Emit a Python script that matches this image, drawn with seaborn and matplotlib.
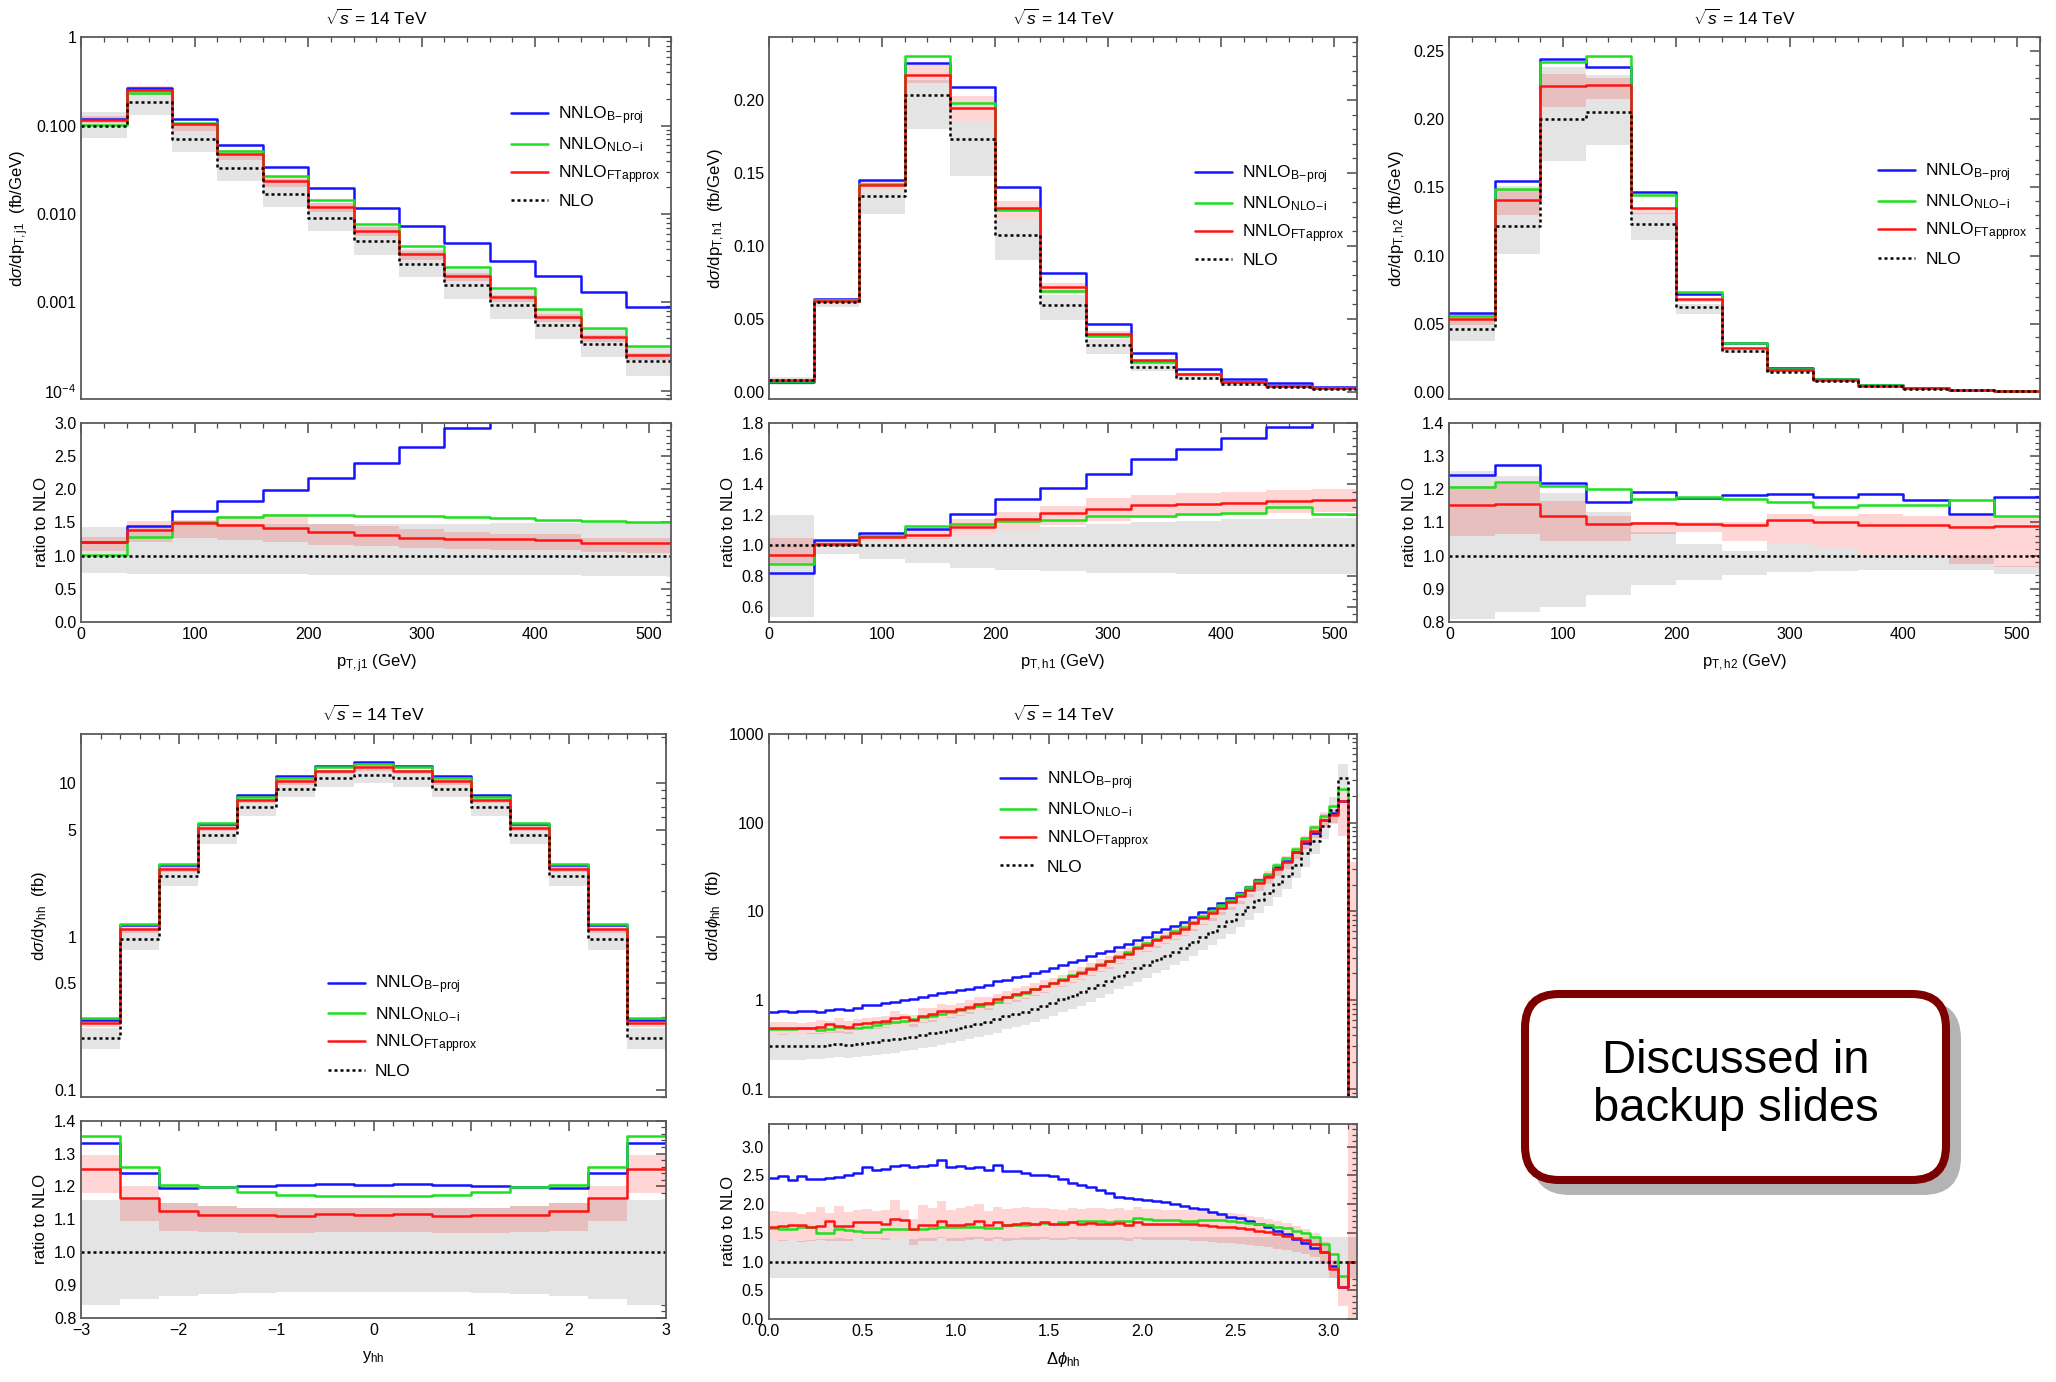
import numpy as np
import pandas as pd
import matplotlib
matplotlib.use("Agg")
import matplotlib.pyplot as plt
import seaborn as sns
from matplotlib.lines import Line2D
from matplotlib.patches import FancyBboxPatch
from matplotlib.ticker import (FixedLocator, NullFormatter, MultipleLocator,
                               FormatStrFormatter, LogLocator)
from matplotlib import font_manager as fm

# ---------------------------------------------------------------- data
# panel 1 : p_T,j1
ptj1_edges = [0, 40, 80, 120, 160, 200, 240, 280, 320, 360, 400, 440, 480, 520]
ptj1_blue = [0.120, 0.267, 0.118, 0.061, 0.0337, 0.0195, 0.0118, 0.00725, 0.00466, 0.00296, 0.00199, 0.00131, 0.000877]
ptj1_green = [0.1026, 0.234, 0.108, 0.052, 0.0272, 0.0144, 0.00778, 0.00434, 0.00249, 0.00144, 0.000847, 0.000517, 0.000323]
ptj1_red = [0.117, 0.253, 0.1044, 0.0482, 0.0238, 0.0121, 0.00642, 0.00349, 0.00197, 0.00114, 0.000689, 0.000409, 0.000256]
ptj1_nlo = [0.100, 0.185, 0.070, 0.0329, 0.0168, 0.0090, 0.00491, 0.00274, 0.00157, 0.000924, 0.000558, 0.000343, 0.000215]
ptj1_blue_r = [1.204, 1.44, 1.673, 1.82, 1.985, 2.17, 2.39, 2.64, 2.93, 3.2, 3.57, 3.82, 4.08]
ptj1_green_r = [1.015, 1.286, 1.50, 1.58, 1.607, 1.607, 1.60, 1.597, 1.587, 1.566, 1.54, 1.515, 1.50]
ptj1_red_r = [1.199, 1.383, 1.49, 1.459, 1.413, 1.357, 1.316, 1.27, 1.255, 1.245, 1.23, 1.19, 1.19]
ptj1_red_lo = [1.07, 1.20, 1.26, 1.24, 1.20, 1.16, 1.14, 1.11, 1.10, 1.09, 1.09, 1.05, 1.04]
ptj1_red_hi = [1.28, 1.52, 1.54, 1.60, 1.62, 1.48, 1.45, 1.40, 1.36, 1.33, 1.32, 1.26, 1.26]
ptj1_grey_lo = [0.73, 0.72, 0.72, 0.715, 0.715, 0.71, 0.71, 0.71, 0.705, 0.70, 0.70, 0.695, 0.69]
ptj1_grey_hi = [1.43, 1.45, 1.46, 1.47, 1.47, 1.48, 1.48, 1.48, 1.48, 1.49, 1.49, 1.49, 1.49]

# panel 2 : p_T,h1
pth1_edges = [0, 40, 80, 120, 160, 200, 240, 280, 320, 360, 400, 440, 480, 520]
pth1_blue = [0.0068, 0.0639, 0.1452, 0.2257, 0.2089, 0.1404, 0.0815, 0.0466, 0.0268, 0.0155, 0.0089, 0.0057, 0.0034]
pth1_green = [0.0073, 0.0626, 0.1422, 0.2305, 0.198, 0.1249, 0.0694, 0.038, 0.0205, 0.0121, 0.0068, 0.0040, 0.0023]
pth1_red = [0.0078, 0.0623, 0.142, 0.2175, 0.1948, 0.1263, 0.0717, 0.0398, 0.0216, 0.0125, 0.0069, 0.0041, 0.0025]
pth1_nlo = [0.0083, 0.0614, 0.1342, 0.2036, 0.1732, 0.1074, 0.0592, 0.0319, 0.0171, 0.0096, 0.0053, 0.0031, 0.0019]
pth1_blue_r = [0.818, 1.038, 1.08, 1.11, 1.206, 1.30, 1.373, 1.464, 1.562, 1.629, 1.704, 1.776, 1.85]
pth1_green_r = [0.878, 1.011, 1.06, 1.129, 1.14, 1.16, 1.167, 1.193, 1.189, 1.204, 1.209, 1.249, 1.204]
pth1_red_r = [0.94, 1.011, 1.053, 1.067, 1.122, 1.173, 1.209, 1.24, 1.262, 1.269, 1.278, 1.289, 1.296]
pth1_red_lo = [0.88, 0.99, 1.03, 1.04, 1.07, 1.10, 1.13, 1.16, 1.18, 1.19, 1.20, 1.21, 1.22]
pth1_red_hi = [1.05, 1.03, 1.08, 1.10, 1.17, 1.22, 1.26, 1.31, 1.33, 1.34, 1.35, 1.36, 1.37]
pth1_grey_lo = [0.53, 0.945, 0.91, 0.885, 0.855, 0.84, 0.83, 0.82, 0.82, 0.815, 0.815, 0.81, 0.81]
pth1_grey_hi = [1.20, 1.02, 1.03, 1.05, 1.07, 1.10, 1.12, 1.14, 1.15, 1.16, 1.17, 1.17, 1.18]

# panel 3 : p_T,h2
pth2_edges = [0, 40, 80, 120, 160, 200, 240, 280, 320, 360, 400, 440, 480, 520]
pth2_blue = [0.0576, 0.155, 0.2441, 0.2385, 0.1468, 0.0721, 0.036, 0.0176, 0.0096, 0.0050, 0.0030, 0.0017, 0.0011]
pth2_green = [0.0559, 0.1485, 0.2417, 0.2466, 0.1444, 0.073, 0.0363, 0.0172, 0.0096, 0.0050, 0.0029, 0.0017, 0.0011]
pth2_red = [0.0534, 0.141, 0.2243, 0.225, 0.135, 0.0681, 0.0326, 0.0162, 0.0088, 0.0046, 0.0027, 0.0016, 0.0010]
pth2_nlo = [0.0461, 0.1216, 0.200, 0.2054, 0.1228, 0.062, 0.0301, 0.0147, 0.0081, 0.0042, 0.0025, 0.0015, 0.0009]
pth2_blue_r = [1.243, 1.274, 1.22, 1.16, 1.192, 1.174, 1.182, 1.187, 1.178, 1.186, 1.168, 1.125, 1.176]
pth2_green_r = [1.207, 1.222, 1.209, 1.20, 1.172, 1.178, 1.171, 1.163, 1.145, 1.152, 1.152, 1.168, 1.12]
pth2_red_r = [1.153, 1.156, 1.12, 1.094, 1.097, 1.096, 1.091, 1.107, 1.10, 1.092, 1.092, 1.087, 1.09]
pth2_red_lo = [1.06, 1.065, 1.045, 1.045, 1.065, 1.07, 1.045, 1.035, 1.025, 1.0, 1.0, 0.975, 0.965]
pth2_red_hi = [1.21, 1.215, 1.165, 1.12, 1.10, 1.10, 1.10, 1.125, 1.12, 1.125, 1.12, 1.12, 1.12]
pth2_grey_lo = [0.81, 0.83, 0.845, 0.88, 0.91, 0.925, 0.94, 0.95, 0.952, 0.955, 0.955, 0.955, 0.945]
pth2_grey_hi = [1.255, 1.24, 1.19, 1.13, 1.07, 1.035, 1.015, 1.035, 1.025, 1.0, 1.0, 1.0, 0.97]

# panel 4 : y_hh
yhh_edges = [-3.0, -2.6, -2.2, -1.8, -1.4, -1.0, -0.6, -0.2, 0.2, 0.6, 1.0, 1.4, 1.8, 2.2, 2.6, 3.0]
yhh_blue = [0.289, 1.186, 2.95, 5.46, 8.4, 11.2, 13.0, 13.8, 13.0, 11.2, 8.4, 5.46, 2.95, 1.186, 0.289]
yhh_green = [0.297, 1.21, 2.96, 5.51, 8.2, 10.8, 12.7, 13.4, 12.7, 10.8, 8.2, 5.51, 2.96, 1.21, 0.297]
yhh_red = [0.276, 1.126, 2.78, 5.12, 7.82, 10.3, 12.1, 12.8, 12.1, 10.3, 7.82, 5.12, 2.78, 1.126, 0.276]
yhh_nlo = [0.220, 0.962, 2.475, 4.6, 7.0, 9.22, 10.8, 11.4, 10.8, 9.22, 7.0, 4.6, 2.475, 0.962, 0.220]
yhh_blue_r = [1.331, 1.241, 1.195, 1.198, 1.200, 1.205, 1.206, 1.204, 1.206, 1.205, 1.200, 1.198, 1.195, 1.241, 1.331]
yhh_green_r = [1.353, 1.259, 1.205, 1.198, 1.182, 1.175, 1.170, 1.170, 1.170, 1.175, 1.182, 1.198, 1.205, 1.259, 1.353]
yhh_red_r = [1.252, 1.166, 1.126, 1.114, 1.112, 1.111, 1.115, 1.114, 1.115, 1.111, 1.112, 1.114, 1.126, 1.166, 1.252]
yhh_red_lo = [1.18, 1.095, 1.065, 1.06, 1.058, 1.058, 1.06, 1.06, 1.06, 1.058, 1.058, 1.06, 1.065, 1.095, 1.18]
yhh_red_hi = [1.295, 1.20, 1.15, 1.14, 1.135, 1.135, 1.135, 1.135, 1.135, 1.135, 1.135, 1.14, 1.15, 1.20, 1.295]
yhh_grey_lo = [0.84, 0.857, 0.866, 0.872, 0.876, 0.877, 0.878, 0.878, 0.878, 0.877, 0.876, 0.872, 0.866, 0.857, 0.84]
yhh_grey_hi = [1.16, 1.16, 1.15, 1.14, 1.135, 1.133, 1.133, 1.133, 1.133, 1.133, 1.135, 1.14, 1.15, 1.16, 1.16]

# panel 5 : Delta phi_hh  (63 bins of width 0.05 from 0 to 3.15)
dphi_nbins = 63
dphi_width = 0.05
dphi_nlo = [0.30, 0.30, 0.30, 0.30, 0.305, 0.305, 0.315, 0.318, 0.31, 0.318,
            0.328, 0.34, 0.35, 0.36, 0.37, 0.385, 0.405, 0.42, 0.435, 0.46,
            0.485, 0.51, 0.535, 0.57, 0.605, 0.66, 0.70, 0.74, 0.80, 0.86,
            0.93, 1.02, 1.12, 1.22, 1.35, 1.49, 1.64, 1.85, 2.05, 2.27,
            2.5, 2.83, 3.1, 3.45, 3.85, 4.45, 5.1, 5.85, 6.85, 7.85,
            9.3, 11.1, 13.4, 16.2, 20.5, 25.0, 33.0, 45.0, 62.0, 92.0,
            137.0, 320.0, 0.001]
dphi_blue_r = [2.46, 2.48, 2.42, 2.49, 2.44, 2.43, 2.455, 2.47, 2.50, 2.54,
               2.65, 2.59, 2.61, 2.66, 2.68, 2.65, 2.66, 2.68, 2.76, 2.65,
               2.67, 2.62, 2.65, 2.59, 2.675, 2.57, 2.58, 2.54, 2.50, 2.50,
               2.48, 2.43, 2.37, 2.33, 2.30, 2.25, 2.19, 2.13, 2.11, 2.08,
               2.07, 2.06, 2.03, 2.00, 1.97, 1.93, 1.91, 1.86, 1.82, 1.78,
               1.75, 1.70, 1.66, 1.60, 1.53, 1.48, 1.40, 1.32, 1.245, 1.16,
               0.93, 0.55, 1.0]
dphi_green_r = [1.58, 1.57, 1.57, 1.60, 1.60, 1.50, 1.50, 1.56, 1.55, 1.53,
                1.52, 1.52, 1.56, 1.56, 1.56, 1.57, 1.57, 1.58, 1.60, 1.61,
                1.60, 1.60, 1.61, 1.58, 1.58, 1.63, 1.64, 1.64, 1.66, 1.67,
                1.66, 1.68, 1.69, 1.70, 1.70, 1.70, 1.69, 1.71, 1.71, 1.75,
                1.74, 1.72, 1.72, 1.72, 1.71, 1.71, 1.73, 1.73, 1.72, 1.71,
                1.69, 1.67, 1.65, 1.63, 1.61, 1.58, 1.54, 1.50, 1.43, 1.30,
                1.13, 0.75, 1.0]
dphi_red_r = [1.61, 1.62, 1.63, 1.63, 1.60, 1.62, 1.70, 1.62, 1.62, 1.69,
              1.69, 1.68, 1.66, 1.74, 1.72, 1.56, 1.64, 1.64, 1.71, 1.63,
              1.64, 1.65, 1.70, 1.64, 1.69, 1.64, 1.65, 1.67, 1.66, 1.68,
              1.66, 1.65, 1.68, 1.66, 1.67, 1.66, 1.66, 1.67, 1.63, 1.69,
              1.66, 1.66, 1.65, 1.65, 1.66, 1.65, 1.64, 1.62, 1.61, 1.60,
              1.58, 1.56, 1.54, 1.51, 1.48, 1.45, 1.41, 1.37, 1.31, 1.16,
              0.88, 0.55, 1.0]
dphi_red_hi = [1.88, 1.87, 1.86, 1.82, 1.87, 1.95, 1.85, 1.97, 1.86, 1.90,
               1.92, 1.88, 1.90, 2.07, 1.89, 1.74, 1.98, 1.93, 2.05, 1.90,
               1.93, 1.96, 2.00, 1.88, 1.95, 1.91, 1.93, 1.95, 1.93, 1.94,
               1.92, 1.90, 1.93, 1.92, 1.93, 1.93, 1.92, 1.93, 1.90, 1.95,
               1.92, 1.91, 1.90, 1.90, 1.90, 1.89, 1.88, 1.86, 1.85, 1.84,
               1.82, 1.80, 1.77, 1.74, 1.70, 1.67, 1.62, 1.57, 1.50, 1.34,
               1.02, 0.74, 3.45]
dphi_red_lo = [1.38, 1.36, 1.37, 1.34, 1.36, 1.37, 1.35, 1.35, 1.35, 1.41,
               1.40, 1.40, 1.38, 1.43, 1.41, 1.28, 1.35, 1.36, 1.41, 1.35,
               1.36, 1.37, 1.40, 1.36, 1.40, 1.36, 1.37, 1.38, 1.38, 1.39,
               1.38, 1.37, 1.39, 1.38, 1.38, 1.38, 1.38, 1.38, 1.36, 1.40,
               1.38, 1.38, 1.37, 1.37, 1.37, 1.36, 1.36, 1.34, 1.33, 1.32,
               1.31, 1.29, 1.27, 1.25, 1.22, 1.20, 1.17, 1.13, 1.08, 0.96,
               0.72, 0.22, 0.0]
dphi_grey_lo = [0.71, 0.71, 0.71, 0.71, 0.71, 0.71, 0.71, 0.72, 0.71, 0.71,
                0.71, 0.71, 0.71, 0.71, 0.71, 0.71, 0.71, 0.71, 0.71, 0.71,
                0.71, 0.71, 0.71, 0.71, 0.71, 0.71, 0.71, 0.71, 0.71, 0.71,
                0.71, 0.71, 0.71, 0.71, 0.71, 0.71, 0.71, 0.71, 0.71, 0.71,
                0.71, 0.71, 0.71, 0.71, 0.71, 0.71, 0.71, 0.71, 0.71, 0.71,
                0.71, 0.71, 0.71, 0.71, 0.71, 0.71, 0.71, 0.71, 0.71, 0.71,
                0.71, 0.71, 0.71]
dphi_grey_hi = [1.37, 1.37, 1.38, 1.36, 1.38, 1.40, 1.39, 1.41, 1.40, 1.41,
                1.41, 1.41, 1.41, 1.42, 1.41, 1.40, 1.41, 1.41, 1.42, 1.41,
                1.41, 1.42, 1.42, 1.41, 1.42, 1.41, 1.41, 1.42, 1.42, 1.42,
                1.41, 1.41, 1.42, 1.42, 1.42, 1.42, 1.42, 1.42, 1.41, 1.42,
                1.42, 1.42, 1.42, 1.42, 1.42, 1.42, 1.42, 1.42, 1.42, 1.42,
                1.42, 1.42, 1.42, 1.42, 1.42, 1.42, 1.42, 1.42, 1.42, 1.42,
                1.42, 1.42, 1.42]
dphi_main_red_band_last = [0.05, 36.0]   # pink band of the last bin in the upper panel

labels = [r"NNLO$_{\mathregular{B\!-\!proj}}$", r"NNLO$_{\mathregular{NLO\!-\!i}}$",
          r"NNLO$_{\mathregular{FTapprox}}$", "NLO"]
title_text = r"$\sqrt{s}$ = 14 TeV"

# ---------------------------------------------------------------- style
sns.set_theme(style="white")
names = {f.name for f in fm.fontManager.ttflist}
NARROW = "Liberation Sans Narrow" in names
TICK_FAMILY = ["Liberation Sans Narrow", "Liberation Sans", "DejaVu Sans"] if NARROW else ["Liberation Sans", "DejaVu Sans"]
plt.rcParams["font.family"] = TICK_FAMILY
plt.rcParams["mathtext.fontset"] = "custom"
plt.rcParams["mathtext.rm"] = "Liberation Sans"
plt.rcParams["mathtext.it"] = "Liberation Sans:italic"
plt.rcParams["mathtext.bf"] = "Liberation Sans:bold"
plt.rcParams["axes.unicode_minus"] = True
plt.rcParams["text.color"] = "black"
plt.rcParams["axes.labelcolor"] = "black"
plt.rcParams["xtick.color"] = "black"
plt.rcParams["ytick.color"] = "black"

TICK_FS = 13 if NARROW else 11.5
LAB_FS = 12
LEG_FS = 12.5
C_BLUE = "#1414FF"
C_GREEN = "#1EE01E"
C_RED = "#FF1414"
C_GREY = "#E4E4E4"
PINK = (1.0, 0.0, 0.0, 0.16)
LW = 1.8
DOT = (0, (1.2, 1.2))
REG = ["Liberation Sans", "DejaVu Sans"]

fig = plt.figure(figsize=(20.56, 13.82), dpi=100)

# background pixel axes for the annotation box
bg = fig.add_axes([0, 0, 1, 1])
bg.set_xlim(0, 2056)
bg.set_ylim(0, 1382)
bg.axis("off")
bg.set_zorder(0)


def steps(ax, edges, vals, **kw):
    y = list(vals) + [vals[-1]]
    df = pd.DataFrame({"x": list(edges), "y": y})
    sns.lineplot(data=df, x="x", y="y", ax=ax, drawstyle="steps-post",
                 estimator=None, sort=False, errorbar=None, **kw)


def band(ax, edges, lo, hi, color):
    lo2 = list(lo) + [lo[-1]]
    hi2 = list(hi) + [hi[-1]]
    ax.fill_between(edges, lo2, hi2, step="post", color=color, lw=0)


def style(ax):
    for s in ax.spines.values():
        s.set_color("#5a5a5a")
        s.set_linewidth(1.3)
    ax.tick_params(which="both", direction="in", top=True, right=True,
                   colors="#4a4a4a", labelcolor="black")
    ax.tick_params(which="major", length=7, width=1.1, labelsize=TICK_FS)
    ax.tick_params(which="minor", length=3.5, width=0.9)


def panel(rect_main, rect_ratio, edges, blue, green, red, nlo,
          blue_r, green_r, red_r, red_lo, red_hi, grey_lo, grey_hi,
          xlim, ylab, xlab, legend_anchor, main_red_lo=None, main_red_hi=None):
    axm = fig.add_axes(rect_main)
    axr = fig.add_axes(rect_ratio)
    g_lo = [n * f for n, f in zip(nlo, grey_lo)]
    g_hi = [n * f for n, f in zip(nlo, grey_hi)]
    band(axm, edges, g_lo, g_hi, C_GREY)
    r_lo = main_red_lo if main_red_lo is not None else [n * f for n, f in zip(nlo, red_lo)]
    r_hi = main_red_hi if main_red_hi is not None else [n * f for n, f in zip(nlo, red_hi)]
    band(axm, edges, r_lo, r_hi, PINK)
    steps(axm, edges, blue, color=C_BLUE, lw=LW)
    steps(axm, edges, green, color=C_GREEN, lw=LW)
    steps(axm, edges, red, color=C_RED, lw=LW)
    steps(axm, edges, nlo, color="black", lw=LW, linestyle=DOT)
    band(axr, edges, grey_lo, grey_hi, C_GREY)
    band(axr, edges, red_lo, red_hi, PINK)
    steps(axr, edges, blue_r, color=C_BLUE, lw=LW)
    steps(axr, edges, green_r, color=C_GREEN, lw=LW)
    steps(axr, edges, red_r, color=C_RED, lw=LW)
    ref = pd.DataFrame({"x": [xlim[0], xlim[1]], "y": [1.0, 1.0]})
    sns.lineplot(data=ref, x="x", y="y", ax=axr, color="black", lw=LW,
                 linestyle=DOT, estimator=None, errorbar=None)
    for ax in (axm, axr):
        ax.set_xlim(*xlim)
        style(ax)
    axm.set_xlabel("")
    axm.tick_params(labelbottom=False)
    axm.set_ylabel(ylab, fontsize=LAB_FS, family=REG)
    axr.set_ylabel("ratio to NLO", fontsize=LAB_FS, family=REG)
    axr.set_xlabel(xlab, fontsize=LAB_FS, family=REG, labelpad=8)
    axm.set_title(title_text, fontsize=12.5, pad=9)
    handles = [Line2D([0], [0], color=C_BLUE, lw=LW), Line2D([0], [0], color=C_GREEN, lw=LW),
               Line2D([0], [0], color=C_RED, lw=LW),
               Line2D([0], [0], color="black", lw=LW, linestyle=DOT)]
    axm.legend(handles, labels, loc="upper left", bbox_to_anchor=legend_anchor,
               frameon=False, handlelength=2.1, handletextpad=0.6,
               labelspacing=0.5, borderpad=0, borderaxespad=0,
               prop={"family": REG, "size": LEG_FS})
    return axm, axr


cols = [(0.0395, 0.3265), (0.374, 0.660), (0.705, 0.992)]
row1_main = (0.711, 0.973)
row1_ratio = (0.550, 0.694)
row2_main = (0.206, 0.469)
row2_ratio = (0.0465, 0.189)


def rect(col, row):
    return [col[0], row[0], col[1] - col[0], row[1] - row[0]]


# ---- panel 1
a1, r1 = panel(rect(cols[0], row1_main), rect(cols[0], row1_ratio), ptj1_edges,
               ptj1_blue, ptj1_green, ptj1_red, ptj1_nlo,
               ptj1_blue_r, ptj1_green_r, ptj1_red_r, ptj1_red_lo, ptj1_red_hi,
               ptj1_grey_lo, ptj1_grey_hi, (0, 520),
               r"d$\sigma$/dp$_{\mathregular{T,j1}}$  (fb/GeV)", r"p$_{\mathregular{T,j1}}$ (GeV)",
               (0.729, 0.815))
a1.set_yscale("log")
a1.set_ylim(8e-5, 1)
a1.yaxis.set_major_locator(FixedLocator([1e-4, 1e-3, 1e-2, 1e-1, 1]))
a1.set_yticklabels([r"10$^{\mathregular{-4}}$", "0.001", "0.010", "0.100", "1"])
a1.yaxis.set_minor_locator(LogLocator(base=10, subs=np.arange(2, 10)))
a1.yaxis.set_minor_formatter(NullFormatter())
r1.set_ylim(0, 3.0)
r1.yaxis.set_major_locator(MultipleLocator(0.5))
r1.yaxis.set_minor_locator(MultipleLocator(0.1))
r1.yaxis.set_major_formatter(FormatStrFormatter("%.1f"))

# ---- panel 2
a2, r2 = panel(rect(cols[1], row1_main), rect(cols[1], row1_ratio), pth1_edges,
               pth1_blue, pth1_green, pth1_red, pth1_nlo,
               pth1_blue_r, pth1_green_r, pth1_red_r, pth1_red_lo, pth1_red_hi,
               pth1_grey_lo, pth1_grey_hi, (0, 520),
               r"d$\sigma$/dp$_{\mathregular{T,h1}}$  (fb/GeV)", r"p$_{\mathregular{T,h1}}$ (GeV)",
               (0.725, 0.652))
a2.set_ylim(-0.0052, 0.243)
a2.yaxis.set_major_locator(MultipleLocator(0.05))
a2.yaxis.set_minor_locator(MultipleLocator(0.01))
a2.yaxis.set_major_formatter(FormatStrFormatter("%.2f"))
r2.set_ylim(0.5, 1.8)
r2.yaxis.set_major_locator(MultipleLocator(0.2))
r2.yaxis.set_minor_locator(MultipleLocator(0.05))
r2.yaxis.set_major_formatter(FormatStrFormatter("%.1f"))

# ---- panel 3
a3, r3 = panel(rect(cols[2], row1_main), rect(cols[2], row1_ratio), pth2_edges,
               pth2_blue, pth2_green, pth2_red, pth2_nlo,
               pth2_blue_r, pth2_green_r, pth2_red_r, pth2_red_lo, pth2_red_hi,
               pth2_grey_lo, pth2_grey_hi, (0, 520),
               r"d$\sigma$/dp$_{\mathregular{T,h2}}$ (fb/GeV)", r"p$_{\mathregular{T,h2}}$ (GeV)",
               (0.727, 0.657))
a3.set_ylim(-0.0054, 0.26)
a3.yaxis.set_major_locator(MultipleLocator(0.05))
a3.yaxis.set_minor_locator(MultipleLocator(0.01))
a3.yaxis.set_major_formatter(FormatStrFormatter("%.2f"))
r3.set_ylim(0.8, 1.4)
r3.yaxis.set_major_locator(MultipleLocator(0.1))
r3.yaxis.set_minor_locator(MultipleLocator(0.02))
r3.yaxis.set_major_formatter(FormatStrFormatter("%.1f"))

for ax in (a1, a2, a3, r1, r2, r3):
    ax.xaxis.set_major_locator(MultipleLocator(100))
    ax.xaxis.set_minor_locator(MultipleLocator(20))

# ---- panel 4
c4 = (0.0395, 0.324)
a4, r4 = panel(rect(c4, row2_main), rect(c4, row2_ratio), yhh_edges,
               yhh_blue, yhh_green, yhh_red, yhh_nlo,
               yhh_blue_r, yhh_green_r, yhh_red_r, yhh_red_lo, yhh_red_hi,
               yhh_grey_lo, yhh_grey_hi, (-3, 3),
               r"d$\sigma$/dy$_{\mathregular{hh}}$  (fb)", r"y$_{\mathregular{hh}}$",
               (0.422, 0.34))
a4.set_yscale("log")
a4.set_ylim(0.09, 21)
a4.yaxis.set_major_locator(FixedLocator([0.1, 0.5, 1, 5, 10]))
a4.set_yticklabels(["0.1", "0.5", "1", "5", "10"])
a4.yaxis.set_minor_locator(LogLocator(base=10, subs=np.arange(2, 10)))
a4.yaxis.set_minor_formatter(NullFormatter())
r4.set_ylim(0.8, 1.4)
r4.yaxis.set_major_locator(MultipleLocator(0.1))
r4.yaxis.set_minor_locator(MultipleLocator(0.02))
r4.yaxis.set_major_formatter(FormatStrFormatter("%.1f"))
for ax in (a4, r4):
    ax.xaxis.set_major_locator(MultipleLocator(1))
    ax.xaxis.set_minor_locator(MultipleLocator(0.2))

# ---- panel 5
dphi_edges = list(np.round(np.arange(dphi_nbins + 1) * dphi_width, 3))
dphi_blue = [n * r for n, r in zip(dphi_nlo, dphi_blue_r)]
dphi_green = [n * r for n, r in zip(dphi_nlo, dphi_green_r)]
dphi_red = [n * r for n, r in zip(dphi_nlo, dphi_red_r)]
main_red_lo = [n * f for n, f in zip(dphi_nlo, dphi_red_lo)]
main_red_hi = [n * f for n, f in zip(dphi_nlo, dphi_red_hi)]
main_red_lo[-1] = dphi_main_red_band_last[0]
main_red_hi[-1] = dphi_main_red_band_last[1]
c5 = (0.374, 0.660)
a5, r5 = panel(rect(c5, row2_main), [c5[0], 0.0455, c5[1] - c5[0], 0.187 - 0.0455], dphi_edges,
               dphi_blue, dphi_green, dphi_red, dphi_nlo,
               dphi_blue_r, dphi_green_r, dphi_red_r, dphi_red_lo, dphi_red_hi,
               dphi_grey_lo, dphi_grey_hi, (0, 3.15),
               r"d$\sigma$/d$\phi_{\mathregular{hh}}$  (fb)", r"$\Delta\phi_{\mathregular{hh}}$",
               (0.393, 0.902), main_red_lo, main_red_hi)
a5.set_yscale("log")
a5.set_ylim(0.08, 1000)
a5.yaxis.set_major_locator(FixedLocator([0.1, 1, 10, 100, 1000]))
a5.set_yticklabels(["0.1", "1", "10", "100", "1000"])
a5.yaxis.set_minor_locator(LogLocator(base=10, subs=np.arange(2, 10)))
a5.yaxis.set_minor_formatter(NullFormatter())
r5.set_ylim(0, 3.4)
r5.yaxis.set_major_locator(MultipleLocator(0.5))
r5.yaxis.set_minor_locator(MultipleLocator(0.1))
r5.yaxis.set_major_formatter(FormatStrFormatter("%.1f"))
for ax in (a5, r5):
    ax.xaxis.set_major_locator(MultipleLocator(0.5))
    ax.xaxis.set_minor_locator(MultipleLocator(0.1))
r5.xaxis.set_major_formatter(FormatStrFormatter("%.1f"))

# ---- annotation box (pixel coordinates, origin bottom-left)
shadow = FancyBboxPatch((1532, 187), 429, 194, boxstyle="round,pad=0,rounding_size=38",
                        facecolor="#b4b4b4", edgecolor="none", zorder=1)
bg.add_patch(shadow)
box = FancyBboxPatch((1525, 202), 421, 186, boxstyle="round,pad=0,rounding_size=34",
                     facecolor="white", edgecolor="#7d0000", linewidth=5.8, zorder=2)
bg.add_patch(box)
bg.text(1736, 297, "Discussed in\nbackup slides", ha="center", va="center",
        fontsize=34, linespacing=1.12, family=REG, color="black", zorder=3)

fig.savefig("out.png", dpi=100)
